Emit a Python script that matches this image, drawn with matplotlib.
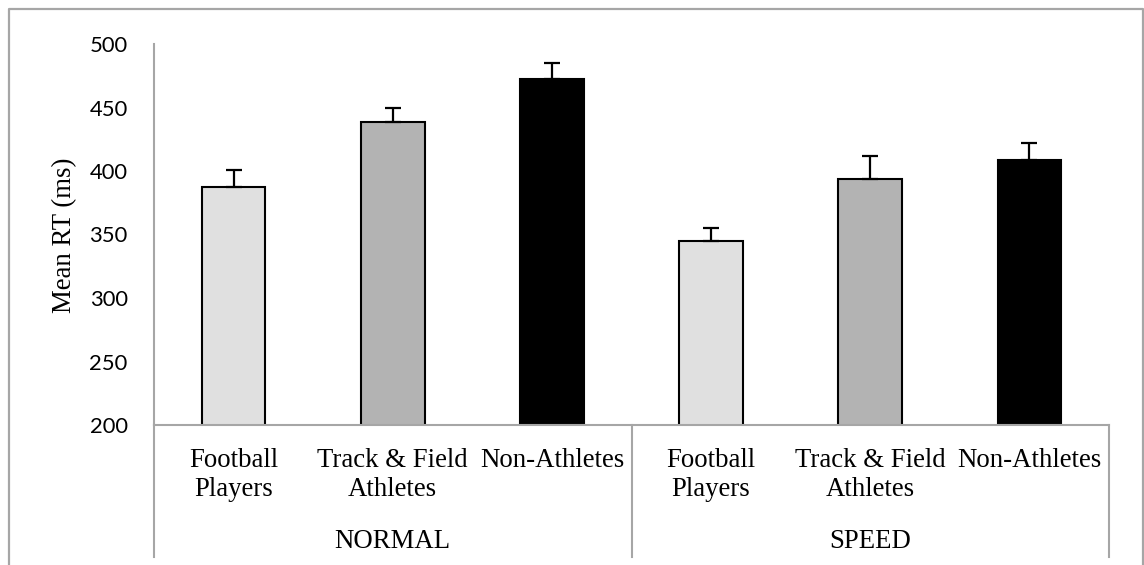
import numpy as np
import matplotlib.pyplot as plt
import matplotlib.transforms as mtransforms
from matplotlib.lines import Line2D

# Data
groups = ["NORMAL", "SPEED"]
athletes = ["Football\nPlayers", "Track & Field\nAthletes", "Non-Athletes"]
normal_rt = [387.5, 438.5, 472.5]
speed_rt = [344.5, 393.5, 409]
normal_err = [13, 11, 12.5]
speed_err = [11, 18, 13]
bar_colors = ["#e0e0e0", "#b3b3b3", "#000000"]

W, H = 1144, 565
fig = plt.figure(figsize=(W / 100, H / 100), dpi=100)
ax = fig.add_axes([154 / W, (H - 425) / H, (1109 - 154) / W, (425 - 44) / H])

values = normal_rt + speed_rt
errs = normal_err + speed_err
x = np.arange(len(values))
ax.bar(x, values, width=0.4, bottom=0, color=bar_colors * 2,
       edgecolor="black", linewidth=1.5, zorder=2)
ax.errorbar(x, values, yerr=[[0] * len(errs), errs], fmt="none",
            ecolor="black", elinewidth=1.6, capsize=5.5, capthick=1.6, zorder=3)

ax.set_ylim(200, 500)
ax.set_xlim(-0.5, 5.5)
ax.set_yticks(range(200, 501, 50))
ax.tick_params(axis="y", length=0, pad=19, labelsize=15.8)
for lab in ax.get_yticklabels():
    lab.set_family("Lato")

serif = "Liberation Serif"
fs = 19.3
ax.set_xticks(x)
ax.set_xticklabels(athletes * 2, family=serif, fontsize=fs, linespacing=1.22)
ax.tick_params(axis="x", length=0, pad=16.5)

grey = "#a6a6a6"
for s in ["top", "right"]:
    ax.spines[s].set_visible(False)
for s in ["left", "bottom"]:
    ax.spines[s].set_color(grey)
    ax.spines[s].set_linewidth(1.5)

# group divider lines below the axis
trans = mtransforms.blended_transform_factory(ax.transData, fig.transFigure)
y_bot = (H - 557) / H
y_axis = (H - 425) / H
for xv in [-0.5, 2.5, 5.5]:
    ax.add_line(Line2D([xv, xv], [y_bot, y_axis], transform=trans,
                       color=grey, linewidth=1.5, clip_on=False))

for i, g in enumerate(groups):
    ax.text(1 + 3 * i, (H - 548) / H, g, transform=trans, ha="center",
            va="baseline", family=serif, fontsize=fs)

fig.text(65 / W, (H - 235) / H, "Mean RT (ms)", rotation=90, ha="center",
         va="center", family=serif, fontsize=fs)

# outer chart border (top, left, right)
bx0, bx1, by = 9 / W, 1143 / W, (H - 9) / H
fig.add_artist(Line2D([bx0, bx0, bx1, bx1], [0, by, by, 0],
                      transform=fig.transFigure, color=grey, linewidth=1.6))

fig.savefig("out.png", dpi=100)
